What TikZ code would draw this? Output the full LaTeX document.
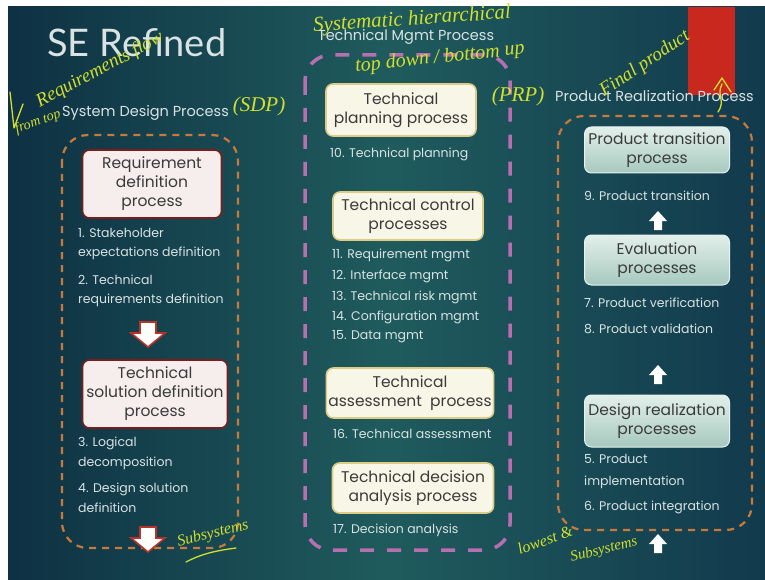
\documentclass[tikz,border=0pt]{standalone}
\usepackage{fontspec}
\setmainfont{Poppins}
\newfontfamily\titlefont{Lato}
\newfontfamily\hand{Liberation Serif}
\definecolor{bgdark}{HTML}{0E3143}
\definecolor{bgmid}{HTML}{1F5B5D}
\definecolor{bgright}{HTML}{123A4D}
\definecolor{orangedash}{HTML}{C87A3A}
\definecolor{pinkdash}{HTML}{B86FB0}
\definecolor{sdpfill}{HTML}{F6EDED}
\definecolor{sdpdraw}{HTML}{7A1D1D}
\definecolor{tmpfill}{HTML}{F8F6E6}
\definecolor{tmpdraw}{HTML}{DDCB86}
\definecolor{prptop}{HTML}{E2EFEA}
\definecolor{prpbot}{HTML}{A6C9BE}
\definecolor{boxtext}{HTML}{3A3A3A}
\definecolor{itemtext}{HTML}{D9E3E3}
\definecolor{hw}{HTML}{D2E02C}
\definecolor{slidered}{HTML}{C9281E}
\definecolor{arrowred}{HTML}{B83228}
\tikzset{
  groupbox/.style={line width=2.2pt, rounded corners=26pt, dash pattern=on 7pt off 6pt},
  procbox/.style={rounded corners=7pt, align=center, text=boxtext, inner sep=2pt,
    font=\fontsize{15.5}{19}\selectfont},
  sdpbox/.style={procbox, fill=sdpfill, draw=sdpdraw, line width=1.6pt},
  tmpbox/.style={procbox, fill=tmpfill, draw=tmpdraw, line width=1.6pt},
  prpbox/.style={procbox, top color=prptop, bottom color=prpbot, draw=prptop!80!white, line width=1pt},
  item/.style={anchor=west, text=itemtext, inner sep=0pt, font=\fontsize{12.5}{15}\selectfont},
  head/.style={text=itemtext, inner sep=0pt, font=\fontsize{14.5}{17}\selectfont},
  hwtext/.style={text=hw, inner sep=0pt, font=\hand\itshape\fontsize{19}{20}\selectfont},
  hwline/.style={draw=hw, line width=1.3pt, line cap=round, line join=round},
  downarrow/.pic={\filldraw[fill=white, draw=arrowred, line width=1.6pt]
      (-8,0) -- (8,0) -- (8,11) -- (17,11) -- (0,25) -- (-17,11) -- (-8,11) -- cycle;},
  uparrow/.pic={\fill[white]
      (-4,0) -- (4,0) -- (4,-9) -- (9,-9) -- (0,-19) -- (-9,-9) -- (-4,-9) -- cycle;}
}
\begin{document}
\begin{tikzpicture}[x=1pt,y=-1pt]
\useasboundingbox (0,0) rectangle (765,580);
\fill[white] (0,0) rectangle (765,580);
\shade[left color=bgdark, right color=bgright, middle color=bgmid] (8,7) rectangle (765,580);
\fill[slidered] (688,7) rectangle (735,95);

% titles
\node[anchor=west, text=itemtext, inner sep=0pt, font=\titlefont\fontsize{38}{42}\selectfont] (title) at (47,43) {SE Refined};
\node[head, anchor=west] (sdph) at (62,113) {System Design Process};
\node[head] (tmph) at (406,37) {Technical Mgmt Process};
\node[head, anchor=west] (prph) at (555,96) {Product Realization Process};

% group boxes
\draw[groupbox, draw=orangedash] (62,135) rectangle (238,548);
\draw[groupbox, draw=pinkdash, line width=3.5pt, dash pattern=on 14pt off 13pt] (305,55) rectangle (510,550);
\draw[groupbox, draw=orangedash] (558,116) rectangle (752,530);

% System design process
\node[sdpbox, minimum width=139pt, minimum height=68pt] (rdp) at (152,184) {Requirement\\definition\\process};
\node[item] (i1a) at (78,233) {1. Stakeholder};
\node[item] (i1b) at (78,253) {expectations definition};
\node[item] (i2a) at (78,280) {2. Technical};
\node[item] (i2b) at (78,300) {requirements definition};
\pic at (148,322) {downarrow};
\node[sdpbox, minimum width=145pt, minimum height=68pt] (tsdp) at (155,394) {Technical\\solution definition\\process};
\node[item] (i3a) at (78,443) {3. Logical};
\node[item] (i3b) at (78,463) {decomposition};
\node[item] (i4a) at (78,489) {4. Design solution};
\node[item] (i4b) at (78,508) {definition};
\pic at (148,527) {downarrow};

% Technical management process
\node[tmpbox, minimum width=150pt, minimum height=52pt] (tpp) at (401,110) {Technical\\planning process};
\node[item] (i10) at (330,154) {10. Technical planning};
\node[tmpbox, minimum width=150pt, minimum height=48pt] (tcp) at (408,216) {Technical control\\processes};
\node[item] (i11) at (332,255) {11. Requirement mgmt};
\node[item] (i12) at (332,276) {12. Interface mgmt};
\node[item] (i13) at (332,297) {13. Technical risk mgmt};
\node[item] (i14) at (332,317) {14. Configuration mgmt};
\node[item] (i15) at (332,337) {15. Data mgmt};
\node[tmpbox, minimum width=167pt, minimum height=50pt] (tap) at (410,393) {Technical\\assessment\ \ process};
\node[item] (i16) at (333,434) {16. Technical assessment};
\node[tmpbox, minimum width=161pt, minimum height=50pt] (tdap) at (413,488) {Technical decision\\analysis process};
\node[item] (i17) at (333,530) {17. Decision analysis};

% Product realization process
\node[prpbox, minimum width=145pt, minimum height=46pt] (ptp) at (657,150) {Product transition\\process};
\node[item] (i9) at (584,196) {9. Product transition};
\pic at (658,230) {uparrow};
\node[prpbox, minimum width=145pt, minimum height=50pt] (evp) at (657,260) {Evaluation\\processes};
\node[item] (i7) at (584,303) {7. Product verification};
\node[item] (i8) at (584,329) {8. Product validation};
\pic at (658,384) {uparrow};
\node[prpbox, minimum width=145pt, minimum height=52pt] (drp) at (657,421) {Design realization\\processes};
\node[item] (i5a) at (584,459) {5. Product};
\node[item] (i5b) at (584,482) {implementation};
\node[item] (i6) at (584,507) {6. Product integration};
\pic at (658,553) {uparrow};

% handwritten annotations
\draw[hwline] (10,92) -- (14,128) -- (23,104);
\node[hwtext, rotate=28] (hw1) at (100,70) {Requirements flow};
\node[hwtext, rotate=20, font=\hand\itshape\fontsize{14}{16}\selectfont] (hw2) at (38,122) {from top};
\node[hwtext, font=\hand\itshape\fontsize{21}{22}\selectfont] (hwsdp) at (259,106) {(SDP)};
\node[hwtext, rotate=4, font=\hand\itshape\fontsize{21}{22}\selectfont] (hw3) at (412,20) {Systematic hierarchical};
\node[hwtext, rotate=6, font=\hand\itshape\fontsize{20}{22}\selectfont] (hw4) at (440,58) {top down / bottom up};
\node[hwtext, font=\hand\itshape\fontsize{21}{22}\selectfont] (hwprp) at (518,96) {(PRP)};
\node[hwtext, rotate=34] (hw5) at (645,64) {Final product};
\draw[hwline] (714,90) -- (722,78) -- (731,92);
\draw[hwline] (722,84) .. controls (716,96) and (726,100) .. (718,112);
\node[hwtext, rotate=14, font=\hand\itshape\fontsize{16}{18}\selectfont] (hw6) at (213,534) {Subsystems};
\draw[hwline] (186,562) .. controls (205,552) and (222,550) .. (236,548);
\node[hwtext, rotate=20, font=\hand\itshape\fontsize{16}{18}\selectfont] (hw7) at (545,540) {lowest \&};
\node[hwtext, rotate=14, font=\hand\itshape\fontsize{15}{18}\selectfont] (hw8) at (604,550) {Subsystems};
\end{tikzpicture}
\end{document}
